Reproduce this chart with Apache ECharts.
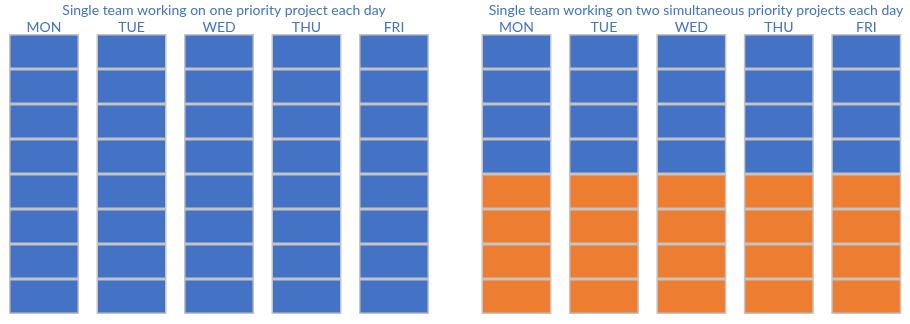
<!DOCTYPE html>
<html><head><meta charset="utf-8">
<script src="https://cdn.jsdelivr.net/npm/echarts@6/dist/echarts.min.js"></script>
<style>html,body{margin:0;padding:0;background:#fff}#c{width:910px;height:324px}</style>
</head><body><div id="c"></div>
<script>
const days = ['MON', 'TUE', 'WED', 'THU', 'FRI'];
const leftTitle = 'Single team working on one priority project each day';
const rightTitle = 'Single team working on two simultaneous priority projects each day';
const hoursPerDay = 8;
// hour cells per day
const leftProjectA = [8, 8, 8, 8, 8];
const rightProjectA = [4, 4, 4, 4, 4];
const rightProjectB = [4, 4, 4, 4, 4];

const BLUE = '#4472C4', ORANGE = '#ED7D31', BORDER = '#C4C4C4';

function cellSeries(counts, color, gridIdx, name) {
  // one series per hour slot; each cell is one hour
  const out = [];
  const maxC = Math.max(...counts);
  for (let h = 0; h < maxC; h++) {
    out.push({
      type: 'bar', name: name, stack: 's' + gridIdx,
      xAxisIndex: gridIdx, yAxisIndex: gridIdx,
      barWidth: 70, silent: true,
      itemStyle: { color: color, borderColor: BORDER, borderWidth: 1.5 },
      data: counts.map(c => (h < c ? 1 : 0))
    });
  }
  return out;
}

const series = [].concat(
  cellSeries(leftProjectA, BLUE, 0, 'A'),
  cellSeries(rightProjectB, ORANGE, 1, 'B'),
  cellSeries(rightProjectA, BLUE, 1, 'A')
);

const font = 'Lato';
const xAx = (i) => ({
  type: 'category', gridIndex: i, data: days, position: 'top',
  axisLine: { show: false }, axisTick: { show: false },
  axisLabel: { color: BLUE, fontSize: 14, fontFamily: font, margin: 0 }
});
const yAx = (i) => ({ type: 'value', gridIndex: i, min: 0, max: hoursPerDay, show: false });

const chart = echarts.init(document.getElementById('c'), null, { renderer: 'canvas' });
chart.setOption({
  animation: false,
  title: [
    { text: leftTitle, left: 219, top: -2, textAlign: 'center',
      textStyle: { color: BLUE, fontSize: 14, fontWeight: 'normal', fontFamily: font } },
    { text: rightTitle, left: 691, top: -2, textAlign: 'center',
      textStyle: { color: BLUE, fontSize: 14, fontWeight: 'normal', fontFamily: font } }
  ],
  grid: [
    { left: 0.25, width: 437.5, top: 34, height: 280 },
    { left: 472.75, width: 437.5, top: 34, height: 280 }
  ],
  xAxis: [xAx(0), xAx(1)],
  yAxis: [yAx(0), yAx(1)],
  series: series
});
</script></body></html>
